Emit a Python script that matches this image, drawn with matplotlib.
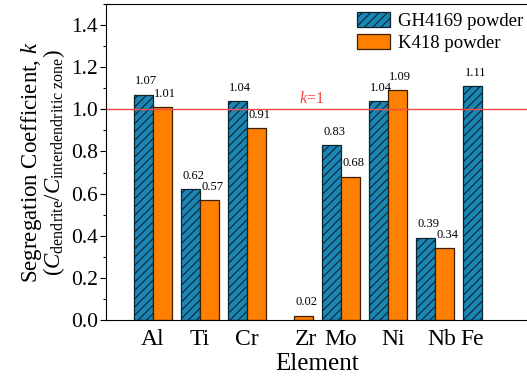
import numpy as np
import matplotlib
matplotlib.use("Agg")
import matplotlib.pyplot as plt
from matplotlib.ticker import MultipleLocator

# data
elements = ["Al", "Ti", "Cr", "Zr", "Mo", "Ni", "Nb", "Fe"]
gh4169 = [1.07, 0.62, 1.04, None, 0.83, 1.04, 0.39, 1.11]
k418 = [1.01, 0.57, 0.91, 0.02, 0.68, 1.09, 0.34, None]
series_names = ["GH4169 powder", "K418 powder"]

plt.rcParams["font.family"] = ["Liberation Serif", "DejaVu Serif"]
plt.rcParams["mathtext.fontset"] = "custom"
plt.rcParams["mathtext.rm"] = "Liberation Serif"
plt.rcParams["mathtext.it"] = "Liberation Serif:italic"
plt.rcParams["hatch.linewidth"] = 0.8
plt.rcParams["hatch.color"] = "#0a1a24"

fig = plt.figure(figsize=(5.27, 3.78), dpi=100)
ax = fig.add_axes([106 / 527, 58 / 378, 423 / 527, 316 / 378])

x = np.arange(len(elements))
w = 0.4
blue = "#1a86b4"
orange = "#ff8000"

for i, (a, b) in enumerate(zip(gh4169, k418)):
    if a is not None:
        ax.bar(x[i] - w / 2, a, w, color=blue, edgecolor="#0d2330", hatch="////",
               linewidth=0.9, label=series_names[0] if i == 0 else None)
        ax.text(x[i] - w / 2 + 0.06, a + 0.035, f"{a:.2f}", ha="center", va="bottom", fontsize=9)
    if b is not None:
        ax.bar(x[i] + w / 2, b, w, color=orange, edgecolor="#3a2000",
               linewidth=0.9, label=series_names[1] if i == 0 else None)
        ax.text(x[i] + w / 2 + 0.06, b + 0.035, f"{b:.2f}", ha="center", va="bottom", fontsize=9)

ax.axhline(1.0, color="#ff4848", lw=1.0)
ax.text(3.38, 1.01, r"$k$=1", color="#ff4040", fontsize=11.5, ha="center", va="bottom")

ax.set_xlim(-1, 8)
ax.set_ylim(0, 1.5)
ax.yaxis.set_major_locator(MultipleLocator(0.2))
ax.yaxis.set_minor_locator(MultipleLocator(0.1))
ax.tick_params(axis="y", which="major", length=4.3, width=0.8, labelsize=15.5, pad=1.5)
ax.tick_params(axis="y", which="minor", length=2.3, width=0.8)

# element labels sit under the bar(s) of each element
tick_pos = x.astype(float).copy()
tick_pos[3] += 0.25
tick_pos[5] += 0.1
tick_pos[6] += 0.15
tick_pos[7] -= 0.2
ax.set_xticks(tick_pos)
ax.set_xticklabels(elements, fontsize=17)
ax.tick_params(axis="x", length=0, pad=6.5)
ax.spines["right"].set_visible(False)

ax.set_xlabel("Element", fontsize=18, labelpad=2)
ax.set_ylabel("Segregation Coefficient, $k$\n($C_{\\mathrm{dendrite}}$/$C_{\\mathrm{interdendritic\\ zone}}$)",
              fontsize=16.5, linespacing=0.85, labelpad=3)

ax.legend(loc="upper right", frameon=False, fontsize=13.5, handlelength=1.8,
          handleheight=0.9, borderaxespad=0.1, labelspacing=0.2, handletextpad=0.4,
          bbox_to_anchor=(1.008, 1.005))

fig.savefig("out.png", dpi=100)
